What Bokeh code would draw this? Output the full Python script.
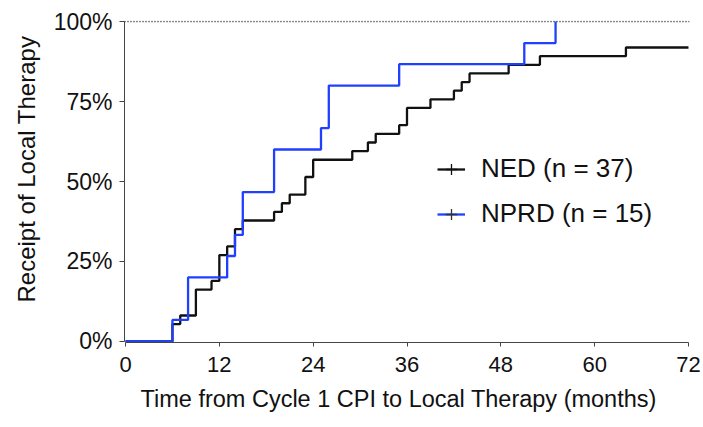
import math
from bokeh.plotting import figure
from bokeh.models import Range1d, Legend, LegendItem, Title, Span, FixedTicker, PrintfTickFormatter
from bokeh.embed import file_html
from bokeh.resources import INLINE

# ---- data (cumulative incidence of local therapy, %) ----
ned_months = [0, 6, 7, 9, 11, 12, 13, 14, 15, 19, 20, 21, 23, 24, 29, 31, 32, 35, 36,
              39, 42, 43, 44, 49, 53, 64, 72]
ned_pct = [0, 5.4, 8.1, 16.2, 18.9, 27.0, 29.7, 35.1, 37.8, 40.5, 43.2, 45.9, 51.4, 56.8,
           59.5, 62.2, 64.9, 67.6, 73.0, 75.7, 78.4, 81.1, 83.8, 86.5, 89.2, 91.9, 91.9]

nprd_months = [0, 6, 8, 13, 14, 15, 19, 25, 26, 35, 51, 55]
nprd_pct = [0, 6.7, 20.0, 26.7, 33.3, 46.7, 60.0, 66.7, 80.0, 86.7, 93.3, 100.0]

x_ticks = [0, 12, 24, 36, 48, 60, 72]
y_ticks = [0, 25, 50, 75, 100]

ned_label = "NED (n = 37)"
nprd_label = "NPRD (n = 15)"
x_title = "Time from Cycle 1 CPI to Local Therapy (months)"
y_title = "Receipt of Local Therapy"

FONT = "Liberation Sans"
BLACK = "#111111"
BLUE = "#2040ff"

p = figure(width=703, height=427, output_backend="svg", toolbar_location=None,
           x_range=Range1d(-0.13, 72.13), y_range=Range1d(-0.35, 100.35),
           min_border_left=122, min_border_right=14, min_border_top=20, min_border_bottom=85)
p.outline_line_color = None
p.xgrid.visible = False
p.ygrid.visible = False
p.background_fill_color = "white"
p.border_fill_color = "white"

for ax in (p.xaxis[0], p.yaxis[0]):
    ax.axis_line_color = "#444444"
    ax.axis_line_width = 1
    ax.major_tick_line_color = "#444444"
    ax.major_tick_line_width = 1
    ax.major_tick_in = 0
    ax.minor_tick_line_color = None
    ax.major_label_text_font = FONT
    ax.major_label_text_font_size = "22px"
    ax.major_label_text_color = "#111111"

p.xaxis[0].ticker = FixedTicker(ticks=x_ticks)
p.xaxis[0].major_tick_out = 4
p.xaxis[0].major_label_standoff = 10
p.xaxis[0].bounds = (0, 72)

p.yaxis[0].ticker = FixedTicker(ticks=y_ticks)
p.yaxis[0].formatter = PrintfTickFormatter(format="%d%%")
p.yaxis[0].major_label_text_font_size = "23px"
p.yaxis[0].major_tick_out = 5
p.yaxis[0].major_label_standoff = 7
p.yaxis[0].bounds = (0, 100)

p.add_layout(Span(location=100, dimension="width", line_color="#111111",
                  line_width=1.5, line_dash="1 2"))

ned = p.step(ned_months, ned_pct, mode="after", line_color=BLACK, line_width=2.3)
nprd = p.step(nprd_months, nprd_pct, mode="after", line_color=BLUE, line_width=2.3)
ned_c = p.scatter(x=[0], y=[-50], marker="cross", size=9,
                  line_color=BLACK, line_width=1.3)
nprd_c = p.scatter(x=[0], y=[-50], marker="cross", size=9,
                   line_color="#333333", line_width=1.3)

legend = Legend(items=[LegendItem(label=ned_label, renderers=[ned, ned_c]),
                       LegendItem(label=nprd_label, renderers=[nprd, nprd_c])],
                location=(313, 113), padding=0, margin=0, spacing=14,
                glyph_width=28, glyph_height=30, label_height=30, label_standoff=16,
                label_text_font=FONT, label_text_font_size="26px", label_text_color="#111111",
                border_line_alpha=0, background_fill_alpha=0)
p.add_layout(legend, "center")

p.add_layout(Title(text=x_title, align="left", offset=16, text_font=FONT,
                   text_font_size="23.5px", text_font_style="normal",
                   text_baseline="top",
                   text_color="#111111", standoff=18), "below")
p.add_layout(Title(text=y_title, align="left", offset=40, text_font=FONT,
                   text_font_size="24px", text_font_style="normal",
                   text_color="#111111", standoff=21), "left")

open("out.html", "w").write(file_html(p, INLINE))
